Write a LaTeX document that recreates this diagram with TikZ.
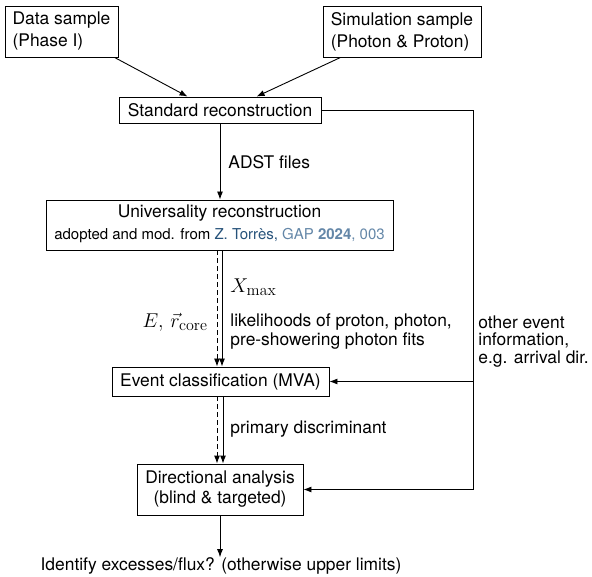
\RequirePackage{fix-cm}
\documentclass[tikz,border=0pt]{standalone}
\usepackage[no-math]{fontspec}
\setmainfont{TeX Gyre Heros}
\usetikzlibrary{arrows.meta,calc}
\definecolor{torres}{RGB}{38,82,122}
\definecolor{gapc}{RGB}{100,135,168}
\DeclareMathSizes{20}{20}{16}{12}
\newcommand\bigfont{\fontsize{17.4}{22}\selectfont}
\newcommand\smallfont{\fontsize{15}{18}\selectfont}
\newcommand\mathfont{\fontsize{20}{24}\selectfont}
\begin{document}
\begin{tikzpicture}[x=1pt,y=-1pt, line width=0.9pt,
  >={Latex[length=8pt,width=6pt]},
  box/.style={draw, rectangle, inner sep=0pt, font=\bigfont},
  lbl/.style={inner sep=0pt, font=\bigfont, align=left},
  mlbl/.style={inner sep=0pt, font=\mathfont},
  dashline/.style={dash pattern=on 5pt off 3pt}]
\useasboundingbox (0,0) rectangle (592,577);

\node[box, minimum width=113pt, minimum height=51pt, align=left] (data) at (61.5,31.5) {Data sample\\(Phase I)};
\node[box, minimum width=158pt, minimum height=51pt, align=left] (sim) at (402,31.5) {Simulation sample\\(Photon \& Proton)};
\node[box, minimum width=202pt, minimum height=26pt] (std) at (220,110) {Standard reconstruction};
\node[box, minimum width=347pt, minimum height=50pt] (uni) at (219.5,225) {};
\node[lbl, anchor=center] (unit) at (219.5,213) {Universality reconstruction};
\node[inner sep=0pt, font=\smallfont, anchor=center] (unic) at (219.5,236) {adopted and mod. from \textcolor{torres}{Z. Torrès,} \textcolor{gapc}{GAP \textbf{2024}, 003}};
\node[box, minimum width=217pt, minimum height=29pt] (evt) at (220.5,381.5) {Event classification (MVA)};
\node[box, minimum width=166pt, minimum height=51pt, align=center, font=\fontsize{17.4}{20}\selectfont] (dir) at (220,489.5) {Directional analysis\\(blind \& targeted)};
\node[lbl, anchor=center] (out) at (221,566) {Identify excesses/flux? (otherwise upper limits)};

\node[lbl, anchor=west] (adst) at (228,162) {ADST files};
\node[mlbl, anchor=base west] (xmax) at (230,293) {$X_{\mathrm{max}}$};
\node[lbl, anchor=north west, font=\fontsize{17.4}{19}\selectfont] (lik) at (230,313) {likelihoods of proton, photon,\\pre-showering photon fits};
\node[mlbl, anchor=base east] (ecore) at (208,328) {$E,\,\vec{r}_{\mathrm{core}}$};
\node[lbl, anchor=west] (prim) at (230,429) {primary discriminant};
\node[lbl, anchor=north west, font=\fontsize{17.4}{17.5}\selectfont] (other) at (478,315) {other event\\information,\\e.g. arrival dir.};

\coordinate (rt) at (473,0);
\coordinate (dA) at (217,0);
\coordinate (sA) at (222,0);
\coordinate (dB) at (217,0);
\coordinate (sB) at (223,0);

\draw[->] ($(data.south west)+(110,0)$) -- ($(std.north west)+(69,0)$);
\draw[->] ($(sim.south west)+(18,0)$) -- ($(std.north west)+(138,0)$);
\draw[->] (std.south) -- (std.south |- uni.north);
\draw[->, dashline] (dA |- uni.south) -- (dA |- evt.north);
\draw[->] (sA |- uni.south) -- (sA |- evt.north);
\draw[->, dashline] (dB |- evt.south) -- (dB |- dir.north);
\draw[->] (sB |- evt.south) -- (sB |- dir.north);
\draw[->] (std.east) -- (rt |- std.east) -- (rt |- dir.east) -- (dir.east);
\draw[->] (rt |- evt.east) -- (evt.east);
\draw[->] (dir.south) -- (dir.south |- out.north);
\end{tikzpicture}
\end{document}
